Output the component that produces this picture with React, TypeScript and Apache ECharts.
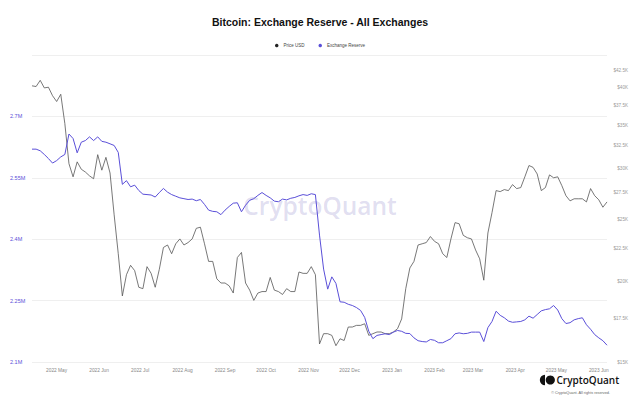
import React, { useEffect, useRef } from 'react';
import * as echarts from 'echarts';

// ---- data ----
const START_DATE = [2022, 3, 13]; // 2022-04-13 (month is 0-based)
const STEP_DAYS = 3;

const priceUsd = [
  40300, 40200, 41100, 40000, 40100, 38900, 38100, 39100, 35200, 30500,
  29100, 30700, 29900, 29600, 29200, 28900, 31500, 29800, 31200, 29500,
  25400, 22100, 19000, 20500, 21200, 20800, 19600, 19500, 21100, 20600,
  19600, 20900, 22600, 22800, 22100, 22900, 23300, 22800, 23000, 23300,
  24200, 24300, 22900, 21500, 21500, 20200, 19900, 19900, 19700, 19200,
  21800, 22200, 19900, 19400, 18700, 19200, 19300, 19300, 20300, 19400,
  19300, 19100, 19500, 19300, 19300, 20700, 20600, 20600, 21100, 20500,
  16000, 16600, 16600, 16500, 15900, 16300, 16200, 17000, 17000, 17100,
  17100, 17200, 16500, 16600, 16700, 16700, 16600, 16600, 16700, 16900,
  17500, 19500, 21000, 21500, 22800, 22900, 23000, 23500, 23100, 22900,
  22100, 21800, 23300, 24700, 24600, 23600, 23400, 23300, 22400, 21700,
  20100, 23800, 25600, 27700, 27600, 27800, 27700, 28300, 27900, 28000,
  29100, 30300, 30100, 29400, 27700, 28000, 29300, 29000, 29100, 28200,
  27200, 26700, 26900, 26900, 26900, 26600, 27900, 27200, 26800, 26100,
  26600,
];

const exchangeReserve = [
  2620000, 2620000, 2616000, 2607000, 2597000, 2586000, 2592000, 2601000, 2607000, 2657000,
  2646000, 2611000, 2637000, 2641000, 2650000, 2641000, 2650000, 2639000, 2637000, 2633000,
  2629000, 2612000, 2534000, 2543000, 2528000, 2532000, 2519000, 2510000, 2509000, 2508000,
  2503000, 2514000, 2524000, 2515000, 2509000, 2505000, 2501000, 2499000, 2497000, 2498000,
  2494000, 2497000, 2485000, 2471000, 2468000, 2467000, 2460000, 2471000, 2480000, 2488000,
  2489000, 2467000, 2483000, 2495000, 2499000, 2507000, 2514000, 2507000, 2501000, 2493000,
  2491500, 2498000, 2496000, 2500000, 2502000, 2506000, 2509000, 2507000, 2511000, 2509000,
  2410000, 2327000, 2278000, 2308000, 2292000, 2247000, 2246000, 2241000, 2238000, 2233000,
  2226000, 2209000, 2175000, 2157000, 2165000, 2167000, 2169000, 2167000, 2173000, 2177000,
  2175000, 2170000, 2169500, 2159000, 2152000, 2150000, 2149000, 2155000, 2153000, 2147000,
  2147000, 2152000, 2157000, 2169000, 2171000, 2169000, 2170000, 2173000, 2173000, 2173000,
  2150000, 2184000, 2199000, 2224000, 2214000, 2208000, 2200000, 2197000, 2198000, 2199000,
  2203000, 2212000, 2207000, 2216000, 2225000, 2228000, 2230000, 2238000, 2227000, 2206000,
  2194000, 2196000, 2203000, 2206000, 2208000, 2191000, 2180000, 2167000, 2159000, 2152000,
  2141000,
];

const xTickDates = [
  '2022-05-01', '2022-06-01', '2022-07-01', '2022-08-01', '2022-09-01', '2022-10-01', '2022-11-01',
  '2022-12-01', '2023-01-01', '2023-02-01', '2023-03-01', '2023-04-01', '2023-05-01', '2023-06-01',
];
const xTickLabels = [
  '2022 May', '2022 Jun', '2022 Jul', '2022 Aug', '2022 Sep', '2022 Oct', '2022 Nov',
  '2022 Dec', '2023 Jan', '2023 Feb', '2023 Mar', '2023 Apr', '2023 May', '2023 Jun',
];

const reserveMin = 2100000;
const reserveMax = 2850000;
const reserveInterval = 150000;

const priceMin = 15000;
const priceMax = 45000;
const priceTickValues = [15000, 17500, 20000, 22500, 25000, 27500, 30000, 32500, 35000, 37500, 40000, 42500];
const priceTickLabels = ['$15K', '$17.5K', '$20K', '$22.5K', '$25K', '$27.5K', '$30K', '$32.5K', '$35K', '$37.5K', '$40K', '$42.5K'];

const BLUE = '#5a4fd8';
const GRAY_LINE = '#555555';
const FONT = '"Liberation Sans", Arial, sans-serif';

function fmtDate(d: Date) {
  const m = d.getMonth() + 1;
  const day = d.getDate();
  return d.getFullYear() + '-' + (m < 10 ? '0' : '') + m + '-' + (day < 10 ? '0' : '') + day;
}

export default function App() {
  const ref = useRef<HTMLDivElement>(null);

  useEffect(() => {
    if (!ref.current) return;
    const chart = echarts.init(ref.current, null, { renderer: 'svg' });

    // daily category axis covering the data range
    const totalDays = (priceUsd.length - 1) * STEP_DAYS;
    const days: string[] = [];
    for (let k = 0; k <= totalDays; k++) {
      days.push(fmtDate(new Date(START_DATE[0], START_DATE[1], START_DATE[2] + k, 12)));
    }
    const pointDay = (i: number) => days[i * STEP_DAYS];

    const option: any = {
      animation: false,
      backgroundColor: '#ffffff',
      textStyle: { fontFamily: FONT },
      title: {
        text: 'Bitcoin: Exchange Reserve - All Exchanges',
        left: 'center',
        top: 11,
        textStyle: { fontSize: 10.5, fontWeight: 'bold', color: '#111', fontFamily: FONT },
      },
      legend: {
        top: 38,
        left: 'center',
        icon: 'circle',
        itemWidth: 3.5,
        itemHeight: 3.5,
        itemGap: 14,
        textStyle: { fontSize: 4.5, color: '#444', fontFamily: FONT },
        data: [
          { name: 'Price USD', itemStyle: { color: '#222' } },
          { name: 'Exchange Reserve', itemStyle: { color: BLUE } },
        ],
      },
      grid: { left: 32, right: 33, top: 55, bottom: 41, containLabel: false },
      xAxis: {
        type: 'category',
        data: days,
        boundaryGap: false,
        axisLine: { show: false },
        axisTick: { show: false },
        splitLine: { show: false },
        axisLabel: {
          interval: (_idx: number, value: string) => xTickDates.indexOf(value) >= 0,
          color: '#888',
          fontSize: 4.8,
          margin: 6,
          fontFamily: FONT,
          formatter: (value: string) => {
            const idx = xTickDates.indexOf(value);
            return idx >= 0 ? xTickLabels[idx] : '';
          },
        },
      },
      yAxis: [
        {
          type: 'value',
          position: 'left',
          min: reserveMin,
          max: reserveMax,
          interval: reserveInterval,
          axisLine: { show: false },
          axisTick: { show: false },
          splitLine: { show: true, lineStyle: { color: '#efefef', width: 1 } },
          axisLabel: {
            showMaxLabel: false,
            color: BLUE,
            fontSize: 5.5,
            align: 'left',
            margin: 22,
            fontFamily: FONT,
            formatter: (v: number) => v / 1000000 + 'M',
          },
        },
        {
          type: 'log',
          position: 'right',
          min: priceMin,
          max: priceMax,
          axisLine: { show: false },
          axisTick: { show: false },
          splitLine: { show: false },
          axisLabel: { show: false },
        },
        {
          type: 'value',
          position: 'right',
          min: Math.log(priceMin),
          max: Math.log(priceMax),
          axisLine: { show: false },
          axisTick: { show: false },
          splitLine: { show: false },
          axisLabel: {
            customValues: priceTickValues.map((p) => Math.log(p)),
            color: '#999',
            fontSize: 4.6,
            align: 'right',
            margin: 21,
            fontFamily: FONT,
            formatter: (v: number) => {
              const idx = priceTickValues.findIndex((p) => Math.abs(Math.log(p) - v) < 1e-6);
              return idx >= 0 ? priceTickLabels[idx] : '';
            },
          },
        },
      ],
      graphic: [
        {
          type: 'text',
          left: 'center',
          top: 193,
          z: 0,
          silent: true,
          style: {
            text: 'CryptoQuant',
            fontSize: 24.5,
            fontWeight: 600,
            fontFamily: '"Open Sans", "Noto Sans", sans-serif',
            fill: 'rgba(125, 115, 195, 0.24)',
          },
        },
        {
          type: 'sector',
          shape: { cx: 545, cy: 380, r: 5.2, r0: 0, startAngle: Math.PI / 2, endAngle: (3 * Math.PI) / 2 },
          style: { fill: '#111' },
        },
        {
          type: 'circle',
          shape: { cx: 550.3, cy: 380, r: 4.6 },
          style: { fill: '#111' },
        },
        {
          type: 'text',
          x: 556.5,
          y: 380,
          style: {
            text: 'CryptoQuant',
            fontSize: 10,
            fontWeight: 600,
            fontFamily: '"Open Sans", "Noto Sans", sans-serif',
            fill: '#111',
            verticalAlign: 'middle',
          },
        },
        {
          type: 'text',
          x: 610,
          y: 393,
          style: {
            text: '© CryptoQuant. All rights reserved.',
            fontSize: 3.8,
            fontFamily: FONT,
            fill: '#666',
            align: 'right',
            verticalAlign: 'middle',
          },
        },
      ],
      series: [
        {
          name: 'Price USD',
          type: 'line',
          yAxisIndex: 1,
          showSymbol: false,
          symbol: 'none',
          z: 3,
          lineStyle: { color: GRAY_LINE, width: 0.8 },
          itemStyle: { color: '#222' },
          data: priceUsd.map((v, i) => [pointDay(i), v]),
        },
        {
          name: 'Exchange Reserve',
          type: 'line',
          yAxisIndex: 0,
          showSymbol: false,
          symbol: 'none',
          z: 4,
          lineStyle: { color: BLUE, width: 1 },
          itemStyle: { color: BLUE },
          data: exchangeReserve.map((v, i) => [pointDay(i), v]),
        },
      ],
    };

    chart.setOption(option);
    return () => chart.dispose();
  }, []);

  return (
    <div
      ref={ref}
      style={{ position: 'fixed', left: 0, top: 0, width: 640, height: 403, background: '#fff' }}
    />
  );
}
